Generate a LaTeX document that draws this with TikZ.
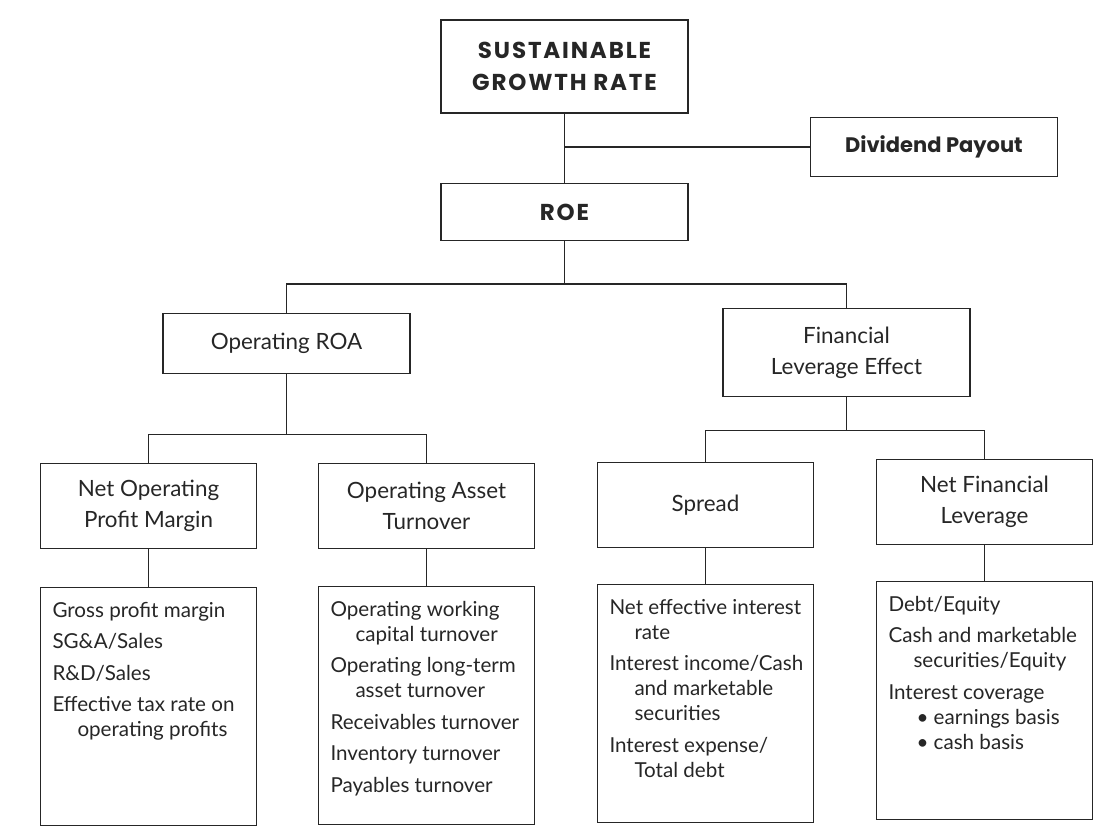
\documentclass[tikz,border=0pt]{standalone}
\usepackage{fontspec}
\setmainfont{Lato}
\newfontfamily\headfont{Poppins}
\usetikzlibrary{positioning}

\definecolor{ink}{HTML}{262626}

% list of ratios under each driver
\newcommand{\ratios}[1]{\parbox[t][107pt][t]{100pt}{\raggedright
  \fontsize{10.3}{12.5}\selectfont\parskip=3.25pt #1}\hspace*{-4pt}}
\newcommand{\ratio}[1]{\hangindent=12.5pt\hangafter=1\strut #1\par}

\tikzset{
  headbox/.style={draw=ink, line width=0.7pt, text=ink, minimum width=123.5pt,
    align=center, font=\headfont\bfseries\fontsize{11.5}{16}\selectfont\addfontfeature{LetterSpace=8}},
  driver/.style={draw=ink, line width=0.7pt, text=ink, minimum width=123.5pt,
    align=center, font=\fontsize{11.2}{15.5}\selectfont},
  subdriver/.style={driver, minimum width=108pt, minimum height=42.5pt},
  ratiobox/.style={draw=ink, line width=0.7pt, text=ink, inner sep=6pt},
  link/.style={draw=ink, line width=0.7pt}
}

\begin{document}
\begin{tikzpicture}[x=0.5pt, y=-0.5pt]
    \useasboundingbox (0,0) rectangle (1117,833);

    \node[headbox, minimum height=46.5pt] (sgr) at (564.5,66.5) {SUSTAINABLE\\GROWTH RATE};
    \node[headbox, minimum height=28.5pt, below=34.5pt of sgr] (roe) {ROE};
    \node[headbox, minimum height=29.5pt, right=60.5pt of sgr, yshift=-40.25pt,
      font=\headfont\bfseries\fontsize{10.5}{16}\selectfont] (payout) {Dividend Payout};

    \node[driver, minimum height=30pt, below=36pt of roe, xshift=-139pt] (opRoa) {Operating ROA};
    \node[driver, minimum height=44pt, below=33.5pt of roe, xshift=141pt] (levEffect) {Financial\\Leverage Effect};

    \node[subdriver, below=44pt of opRoa, xshift=-69pt] (margin) {Net Operating\\Profit Margin};
    \node[subdriver, below=44pt of opRoa, xshift=70pt] (turnover) {Operating Asset\\Turnover};
    \node[subdriver, below=32pt of levEffect, xshift=-70.5pt] (spread) {Spread};
    \node[subdriver, below=30.5pt of levEffect, xshift=69pt] (netLev) {Net Financial\\Leverage};

    \node[ratiobox, below=19pt of margin] (marginRatios) {\ratios{%
      \ratio{Gross profit margin}
      \ratio{SG\&A/Sales}
      \ratio{R\&D/Sales}
      \ratio{Effective tax rate on\newline operating profits}}};
    \node[ratiobox, below=18.5pt of turnover] (turnoverRatios) {\ratios{%
      \ratio{Operating working\newline capital turnover}
      \ratio{Operating long-term\newline asset turnover}
      \ratio{Receivables turnover}
      \ratio{Inventory turnover}
      \ratio{Payables turnover}}};
    \node[ratiobox, below=18pt of spread] (spreadRatios) {\ratios{%
      \ratio{Net effective interest\newline rate}
      \ratio{Interest income/Cash\newline and marketable\newline securities}
      \ratio{Interest expense/\newline Total debt}}};
    \node[ratiobox, below=18pt of netLev] (netLevRatios) {\ratios{%
      \ratio{Debt/Equity}
      \ratio{Cash and marketable\newline securities/Equity}
      \ratio{Interest coverage\newline\hspace*{1.5pt}\textbullet\ earnings basis\newline\hspace*{1.5pt}\textbullet\ cash basis}}};

    % top of the tree
    \draw[link] (sgr) -- (roe);
    \draw[link] (payout.west) -- (payout.west -| sgr.south);

    \draw[link] (roe.south) -- ++(0,-21.5pt) coordinate (split1);
    \draw[link] (opRoa.north) |- (split1) -| (levEffect.north);

    \draw[link] (opRoa.south) -- ++(0,-30pt) coordinate (split2);
    \draw[link] (margin.north) |- (split2) -| (turnover.north);

    \draw[link] (levEffect.south) -- ++(0,-16.5pt) coordinate (split3);
    \draw[link] (spread.north) |- (split3) -| (netLev.north);

    % drivers to ratios
    \draw[link] (margin) -- (marginRatios);
    \draw[link] (turnover) -- (turnoverRatios);
    \draw[link] (spread) -- (spreadRatios);
    \draw[link] (netLev) -- (netLevRatios);
\end{tikzpicture}
\end{document}
